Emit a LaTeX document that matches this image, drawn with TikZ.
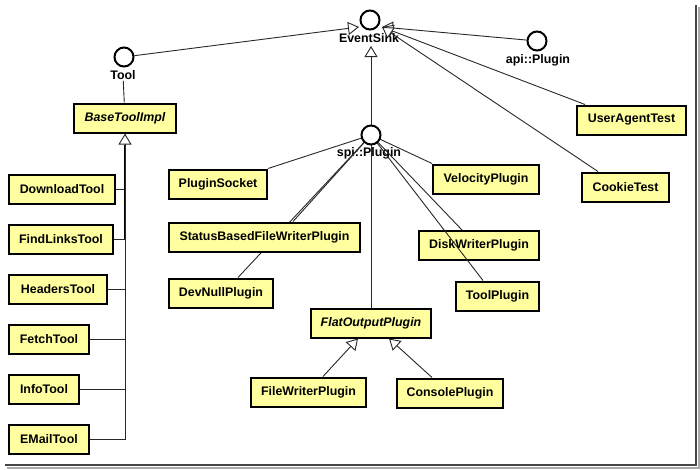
\documentclass[tikz,border=0pt]{standalone}
\usepackage{fontspec}
\setmainfont{Liberation Sans}
\usetikzlibrary{arrows.meta}
\definecolor{boxfill}{RGB}{255,255,160}
\definecolor{edgecol}{RGB}{40,40,40}
\definecolor{shadowdark}{RGB}{70,70,70}
\definecolor{shadowlight}{RGB}{170,170,170}
\tikzset{
  cls/.style={draw=black, fill=boxfill, line width=2pt, minimum height=29pt, inner sep=0pt,
    font=\fontsize{12.4}{14}\selectfont\bfseries},
  abscls/.style={cls, font=\fontsize{12.4}{14}\selectfont\bfseries\itshape},
  iface/.style={circle, draw=black, fill=white, line width=2pt, minimum size=19pt, inner sep=0pt},
  ilabel/.style={inner sep=1pt, font=\fontsize{12.4}{14}\selectfont\bfseries},
  conn/.style={draw=edgecol, line width=0.9pt},
  gen/.style={conn, -{Triangle[length=11pt, width=13pt, fill=white, line width=0.9pt]}},
  trunk/.style={draw=black, line width=2.4pt}
}
\begin{document}
\begin{tikzpicture}[x=1pt, y=-1pt]
\useasboundingbox (0,0) rectangle (700,469);
% shadow border
\draw[shadowdark, line width=2pt] (696,5) -- (696,465) -- (5,465);
\draw[shadowlight, line width=2pt] (698.5,7) -- (698.5,467.5) -- (7,467.5);

% interfaces
\node[iface] (esc) at (370,20) {};
\node[ilabel] (esl) at (369,38) {EventSink};
\node[iface] (toolc) at (124,57) {};
\node[ilabel] (tooll) at (123,75) {Tool};
\node[iface] (apic) at (537,41) {};
\node[ilabel] (apil) at (538,60) {api::Plugin};
\coordinate (esL) at (359,27);
\coordinate (esR) at (382,27);
\coordinate (esB) at (371,46);

% edges into EventSink
\draw[gen] (toolc) -- (esL);
\draw[gen] (apic) -- (esR);

% classes
\node[abscls, minimum width=102pt] (base) at (125,118) {BaseToolImpl};
\node[cls, minimum width=106pt] (dl) at (62,189) {DownloadTool};
\node[cls, minimum width=104pt] (fl) at (61,239) {FindLinksTool};
\node[cls, minimum width=98pt] (ht) at (58,289.5) {HeadersTool};
\node[cls, minimum width=80pt] (ft) at (49,339.5) {FetchTool};
\node[cls, minimum width=70pt] (it) at (44,389.5) {InfoTool};
\node[cls, minimum width=80pt] (et) at (49,439) {EMailTool};

\node[cls, minimum width=109pt] (ua) at (631.5,120) {UserAgentTest};
\node[cls, minimum width=87pt] (ct) at (625.5,187) {CookieTest};
\draw[gen] ([xshift=-46.5pt]ua.north) -- (esR);
\draw[gen] ([xshift=-27.5pt]ct.north) -- (esR);

% spi::Plugin
\node[ilabel] (spil) at (369,153) {spi::Plugin};
\coordinate (spip) at (371,135);

\node[cls, minimum width=98pt] (ps) at (218,184) {PluginSocket};
\node[cls, minimum width=104pt] (dn) at (221,293) {DevNullPlugin};
\draw[conn] ([xshift=17pt]dn.north) -- (spip);
\node[cls, minimum width=191pt] (sb) at (264.5,237) {StatusBasedFileWriterPlugin};
\node[abscls, minimum width=120pt] (fo) at (371,323) {FlatOutputPlugin};
\node[cls, minimum width=115pt] (fw) at (308.5,392) {FileWriterPlugin};
\node[cls, minimum width=106pt] (cp) at (450,393) {ConsolePlugin};
\node[cls, minimum width=106pt] (vp) at (486,179) {VelocityPlugin};
\node[cls, minimum width=120pt] (dw) at (479,245.5) {DiskWriterPlugin};
\node[cls, minimum width=83pt] (tp) at (497.5,296) {ToolPlugin};

\draw[conn] (ps.north east) -- (spip);
\draw[conn] ([xshift=28.5pt]sb.north) -- (spip);
\draw[conn] (vp.north west) -- (spip);
\draw[conn] ([xshift=-17pt]dw.north) -- (spip);
\draw[conn] ([xshift=-14.5pt]tp.north) -- (spip);
\draw[conn] (fo.north) -- (spip);
\node[iface] (spic) at (spip) {};
\draw[gen] (spic) -- (esB);

\draw[gen] ([xshift=14.5pt]fw.north) -- ([xshift=-13pt]fo.south);
\draw[gen] ([xshift=-18pt]cp.north) -- ([xshift=18pt]fo.south);

% Tool hierarchy
\draw[conn] (tooll) -- (base);
\draw[conn] (dl.east) -| (base.south);
\draw[conn] (ht.east) -| (base.south);
\draw[conn] (ft.east) -| (base.south);
\draw[conn] (it.east) -| (base.south);
\draw[conn] (fl.east) -| (base.south);
\draw[trunk, shorten >=11pt] (fl.east -| base.south) -- (base.south);
\draw[gen] (et.east) -| (base.south);
\end{tikzpicture}
\end{document}
